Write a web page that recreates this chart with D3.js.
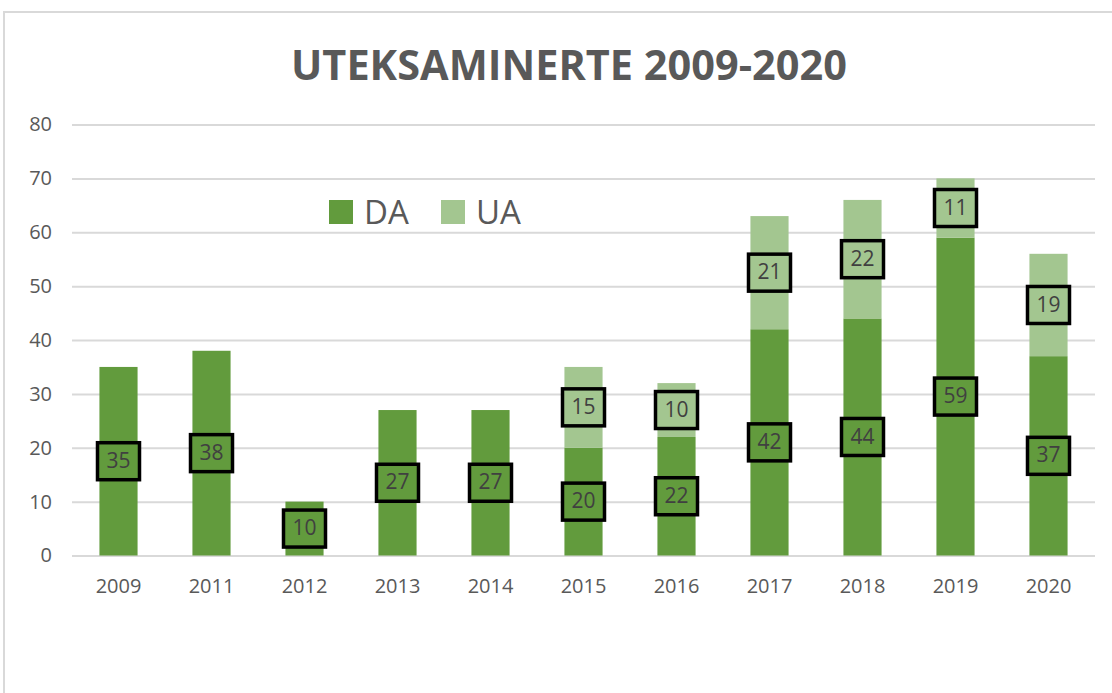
<!DOCTYPE html>
<html>
<head>
<meta charset="utf-8">
<script src="https://cdn.jsdelivr.net/npm/d3@7"></script>
<style>
  html, body { margin: 0; padding: 0; background: #fff; }
  svg { display: block; }
</style>
</head>
<body>
<svg id="chart" width="1112" height="693"></svg>
<script>
const years = ["2009","2011","2012","2013","2014","2015","2016","2017","2018","2019","2020"];
const daValues = [35,38,10,27,27,20,22,42,44,59,37];
const uaValues = [0,0,0,0,0,15,10,21,22,11,19];
const yTicks = [0,10,20,30,40,50,60,70,80];
const seriesNames = ["DA","UA"];
const seriesColors = ["#629B3D","#A3C690"];
const titleText = "UTEKSAMINERTE 2009-2020";

const svg = d3.select("#chart");
const font = "'Open Sans', 'Liberation Sans', sans-serif";

// frame
svg.append("path")
  .attr("d", "M4,693 L4,12 L1112,12")
  .attr("fill", "none").attr("stroke", "#d9d9d9").attr("stroke-width", 2);

const margin = {left: 72, right: 1095, top: 124.5, bottom: 555.5};
const x = d3.scaleBand().domain(years).range([margin.left, margin.right]).paddingInner(0.59).paddingOuter(0.295);
const y = d3.scaleLinear().domain([0, 80]).range([margin.bottom, margin.top]);

// gridlines
const yAxis = d3.axisLeft(y).tickValues(yTicks).tickSize(-(margin.right - margin.left)).tickPadding(20);
const gy = svg.append("g").attr("transform", `translate(${margin.left},0)`).call(yAxis);
gy.select(".domain").remove();
gy.selectAll(".tick line").attr("stroke", "#d9d9d9").attr("stroke-width", 2);
gy.selectAll(".tick text").attr("fill", "#595959").attr("font-size", 20).attr("font-family", font);

// x axis labels
const xAxis = d3.axisBottom(x).tickSize(0).tickPadding(23);
const gx = svg.append("g").attr("transform", `translate(0,${margin.bottom})`).call(xAxis);
gx.select(".domain").remove();
gx.selectAll(".tick text").attr("fill", "#595959").attr("font-size", 20).attr("font-family", font);

// stacked data
const data = years.map((yr, i) => ({year: yr, DA: daValues[i], UA: uaValues[i]}));
const stack = d3.stack().keys(seriesNames)(data);

const layers = svg.append("g").selectAll("g").data(stack).join("g")
  .attr("fill", (d, i) => seriesColors[i]);
layers.selectAll("rect").data(d => d).join("rect")
  .attr("x", d => x(d.data.year))
  .attr("width", x.bandwidth())
  .attr("y", d => y(d[1]))
  .attr("height", d => y(d[0]) - y(d[1]));

// labels with boxes
const lbl = svg.append("g");
stack.forEach((layer, li) => {
  layer.forEach(d => {
    const v = d[1] - d[0];
    if (v <= 0) return;
    const cx = x(d.data.year) + x.bandwidth() / 2;
    const cy = y((d[0] + d[1]) / 2);
    const g = lbl.append("g");
    g.append("rect")
      .attr("x", cx - 21).attr("y", cy - 18.5)
      .attr("width", 42).attr("height", 37)
      .attr("fill", seriesColors[li])
      .attr("stroke", "#000").attr("stroke-width", 3.5);
    g.append("text")
      .attr("x", cx).attr("y", cy + 1)
      .attr("text-anchor", "middle").attr("dominant-baseline", "middle")
      .attr("font-family", font).attr("font-size", 21)
      .attr("fill", "#404040")
      .text(v);
  });
});

// title
svg.append("text")
  .attr("x", 569).attr("y", 80)
  .attr("text-anchor", "middle")
  .attr("font-family", font).attr("font-weight", "bold").attr("font-size", 42)
  .attr("fill", "#595959")
  .attr("textLength", 556).attr("lengthAdjust", "spacingAndGlyphs")
  .text(titleText);

// legend
const legendX = [329, 441];
const legend = svg.append("g");
seriesNames.forEach((name, i) => {
  legend.append("rect")
    .attr("x", legendX[i]).attr("y", 200)
    .attr("width", 24).attr("height", 24)
    .attr("fill", seriesColors[i]);
  legend.append("text")
    .attr("x", legendX[i] + 35).attr("y", 224)
    .attr("font-family", font).attr("font-size", 33)
    .attr("fill", "#595959")
    .text(name);
});
</script>
</body>
</html>
